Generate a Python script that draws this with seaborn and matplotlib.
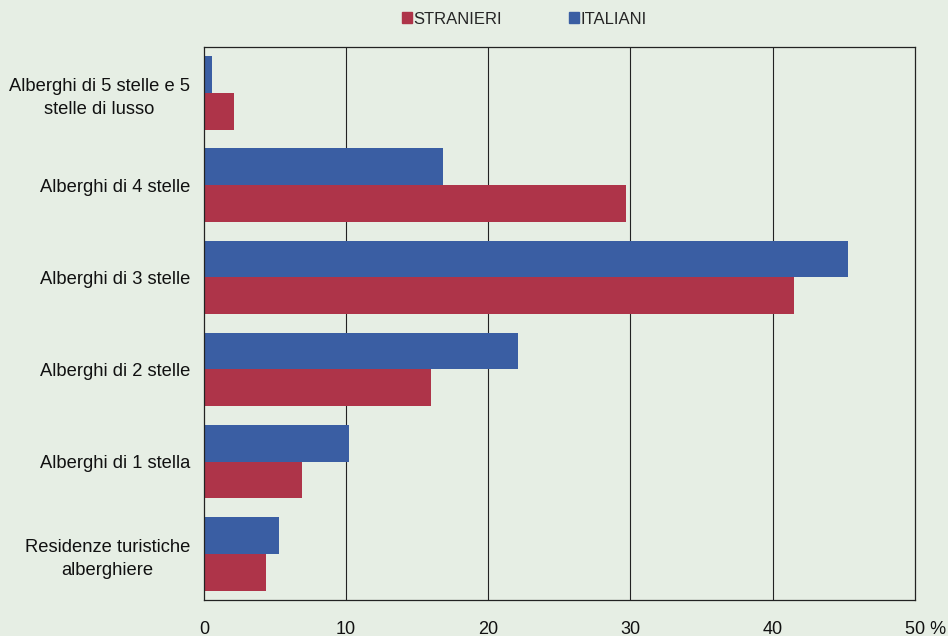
import numpy as np
import pandas as pd
import seaborn as sns
import matplotlib.pyplot as plt
import matplotlib.transforms as mtransforms
from matplotlib.patches import Patch

categorie = ["Alberghi di 5 stelle e 5\nstelle di lusso", "Alberghi di 4 stelle", "Alberghi di 3 stelle",
             "Alberghi di 2 stelle", "Alberghi di 1 stella", "Residenze turistiche\nalberghiere"]
italiani = [0.6, 16.8, 45.3, 22.1, 10.2, 5.3]
stranieri = [2.1, 29.7, 41.5, 16.0, 6.9, 4.4]
xticks = [0, 10, 20, 30, 40, 50]
xlabels = ["0", "10", "20", "30", "40", "50 %"]

df = pd.DataFrame({"cat": categorie * 2,
                   "val": italiani + stranieri,
                   "gruppo": ["ITALIANI"] * 6 + ["STRANIERI"] * 6})

bg = "#e6eee4"
blu = "#3a5ea3"
rosso = "#ae3449"

sns.set_theme(style="white")
plt.rcParams['font.family'] = ['Liberation Sans', 'DejaVu Sans']

fig = plt.figure(figsize=(9.48, 6.36), dpi=100, facecolor=bg)
ax = fig.add_axes([0.215, 0.057, 0.75, 0.869])
ax.set_facecolor(bg)

sns.barplot(data=df, x="val", y="cat", hue="gruppo", hue_order=["ITALIANI", "STRANIERI"],
            palette={"ITALIANI": blu, "STRANIERI": rosso}, orient="h", width=0.8,
            saturation=1, linewidth=0, ax=ax, legend=False)

ax.set_xlim(0, 50)
ax.set_xticks(xticks)
ax.set_xticklabels(xlabels, fontsize=13)
ax.set_xlabel("")
ax.set_ylabel("")
ax.tick_params(axis="x", length=0, pad=15, colors="#111111")
ax.tick_params(axis="y", length=0, pad=10, labelsize=13.2, colors="#111111")
for t in ax.get_yticklabels():
    t.set_multialignment("center")
    t.set_linespacing(1.45)
last = ax.get_xticklabels()[-1]
last.set_horizontalalignment("left")
last.set_transform(last.get_transform() + mtransforms.ScaledTranslation(-10 / 100, 0, fig.dpi_scale_trans))

for x in xticks[1:-1]:
    ax.axvline(x, color="#222222", lw=0.8, zorder=0)
for s in ax.spines.values():
    s.set_visible(True)
    s.set_color("#222222")
    s.set_linewidth(0.9)

handles = [Patch(color=rosso, label="STRANIERI"), Patch(color=blu, label="ITALIANI")]
fig.legend(handles=handles, loc="center", bbox_to_anchor=(0.553, 0.97), ncol=2, frameon=False,
           fontsize=12, handlelength=0.6, handleheight=0.6, handletextpad=0.1, columnspacing=4.0)

fig.savefig("out.png", dpi=100, facecolor=bg)
